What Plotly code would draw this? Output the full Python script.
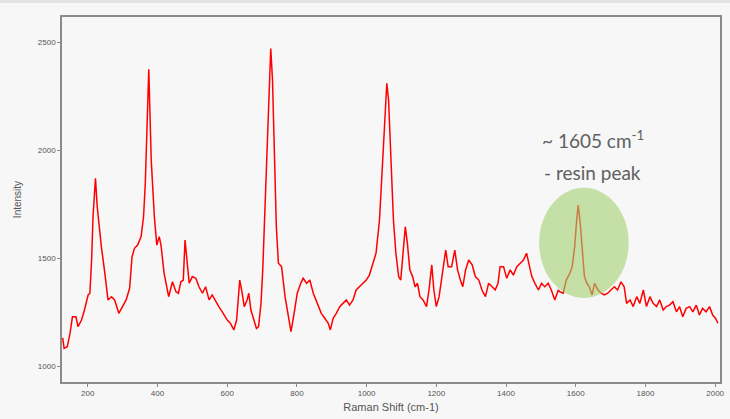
import plotly.graph_objects as go

raman_shift = [128, 132, 141, 149, 156, 166, 172, 182, 189, 196, 201, 206, 211, 215, 222, 227, 232, 239, 249, 258,
               268, 277, 289, 299, 310, 320, 327, 334, 343, 353, 360, 365, 375, 382, 391, 398, 405, 410, 419, 432,
               443, 453, 460, 467, 474, 479, 484, 491, 500, 510, 519, 529, 538, 548, 557, 567, 576, 586, 595, 600,
               609, 619, 627, 636, 643, 649, 657, 662, 668, 676, 684, 690, 697, 702, 709, 716, 721, 725, 730, 735,
               741, 747, 756, 766, 776, 783, 792, 801, 811, 818, 828, 837, 847, 858, 870, 880, 890, 896, 904, 913,
               923, 932, 942, 951, 961, 970, 980, 989, 999, 1008, 1018, 1027, 1037, 1044, 1051, 1058, 1063, 1070, 1077, 1084,
               1092, 1098, 1105, 1111, 1117, 1124, 1132, 1139, 1146, 1153, 1162, 1172, 1179, 1187, 1193, 1200, 1208, 1217, 1227, 1234,
               1244, 1253, 1261, 1269, 1276, 1284, 1293, 1303, 1312, 1322, 1331, 1341, 1350, 1360, 1369, 1377, 1383, 1393, 1402, 1412,
               1421, 1431, 1440, 1450, 1459, 1466, 1474, 1483, 1493, 1502, 1511, 1521, 1530, 1540, 1550, 1554, 1564, 1573, 1583, 1590,
               1597, 1602, 1607, 1613, 1619, 1625, 1632, 1639, 1647, 1654, 1664, 1673, 1682, 1692, 1701, 1711, 1720, 1730, 1739, 1746,
               1756, 1765, 1775, 1784, 1794, 1803, 1813, 1822, 1832, 1841, 1851, 1860, 1869, 1879, 1889, 1898, 1907, 1917, 1927, 1936,
               1946, 1955, 1964, 1974, 1984, 1993, 2001, 2008]

intensity = [1130, 1082, 1089, 1151, 1228, 1228, 1182, 1213, 1251, 1306, 1329, 1337, 1491, 1691, 1869, 1738, 1645, 1552, 1429, 1306,
             1321, 1306, 1244, 1275, 1306, 1360, 1506, 1545, 1560, 1599, 1691, 1846, 2374, 1954, 1691, 1560, 1599, 1560, 1429, 1321,
             1390, 1344, 1337, 1390, 1398, 1583, 1491, 1383, 1414, 1406, 1367, 1337, 1367, 1306, 1329, 1298, 1275, 1251, 1228, 1213,
             1198, 1167, 1213, 1398, 1337, 1275, 1306, 1337, 1259, 1213, 1174, 1182, 1290, 1445, 1753, 2139, 2324, 2470, 2324, 1985,
             1645, 1476, 1460, 1321, 1213, 1159, 1244, 1337, 1383, 1406, 1383, 1398, 1337, 1290, 1244, 1221, 1198, 1167, 1221, 1244,
             1275, 1290, 1306, 1282, 1306, 1352, 1367, 1383, 1398, 1421, 1476, 1522, 1676, 1908, 2139, 2309, 2232, 1985, 1676, 1522,
             1414, 1398, 1537, 1645, 1568, 1445, 1414, 1367, 1383, 1321, 1306, 1275, 1352, 1468, 1352, 1275, 1321, 1414, 1537, 1460,
             1460, 1537, 1445, 1398, 1367, 1445, 1491, 1468, 1414, 1398, 1352, 1321, 1383, 1367, 1352, 1383, 1460, 1460, 1406, 1445,
             1421, 1460, 1476, 1491, 1522, 1476, 1414, 1383, 1352, 1383, 1367, 1383, 1352, 1306, 1352, 1344, 1337, 1398, 1429, 1460,
             1552, 1660, 1745, 1660, 1522, 1414, 1383, 1367, 1329, 1383, 1352, 1337, 1329, 1337, 1352, 1367, 1352, 1390, 1367, 1290,
             1306, 1275, 1321, 1290, 1352, 1275, 1321, 1290, 1275, 1306, 1259, 1275, 1282, 1298, 1251, 1275, 1228, 1267, 1275, 1251,
             1282, 1236, 1267, 1251, 1275, 1236, 1221, 1198]

x_ticks = [200, 400, 600, 800, 1000, 1200, 1400, 1600, 1800, 2000]
y_ticks = [1000, 1500, 2000, 2500]

fig = go.Figure()
fig.add_trace(go.Scatter(x=raman_shift, y=intensity, mode="lines",
                         line=dict(color="#ff0000", width=1.5), showlegend=False,
                         hoverinfo="skip"))

axis_common = dict(showgrid=False, zeroline=False, showline=True, linecolor="#8a8a8a",
                   linewidth=1.5, mirror=True, ticks="outside", ticklen=3, tickcolor="#8a8a8a",
                   tickfont=dict(size=8, color="#555555", family="Liberation Sans"))

fig.update_layout(
    width=730, height=419,
    margin=dict(l=62, r=5, t=17, b=37),
    paper_bgcolor="#f7f7f7", plot_bgcolor="#f7f7f7",
    xaxis=dict(range=[126, 2014], tickvals=x_ticks,
               title=dict(text="Raman Shift (cm-1)", standoff=6,
                          font=dict(size=11, color="#555555", family="Liberation Sans")),
               **axis_common),
    yaxis=dict(range=[926, 2616], tickvals=y_ticks,
               title=dict(text="Intensity", standoff=14,
                          font=dict(size=10, color="#555555", family="Liberation Sans")),
               **axis_common),
    shapes=[
        dict(type="circle", xref="x", yref="y", x0=1495, x1=1752, y0=1315, y1=1825,
             fillcolor="rgb(164,209,111)", opacity=0.6, line=dict(width=0), layer="above"),
        dict(type="rect", xref="paper", yref="paper", x0=-0.2, x1=1.1,
             y0=1 + 14 / 365, y1=1 + 18 / 365, fillcolor="#e3e3e3", line=dict(width=0),
             layer="below"),
    ],
    annotations=[
        dict(x=1650, y=2050, xref="x", yref="y", showarrow=False,
             text="~ 1605 cm<sup>-1</sup>",
             font=dict(size=19, color="#606060", family="Lato")),
        dict(x=1648, y=1898, xref="x", yref="y", showarrow=False,
             text="- resin peak",
             font=dict(size=19, color="#606060", family="Lato")),
    ],
)

fig.write_html(
    "out.html",
    config={"displayModeBar": False},
    post_script="document.body.style.margin='0';document.body.style.background='#f7f7f7';",
)
